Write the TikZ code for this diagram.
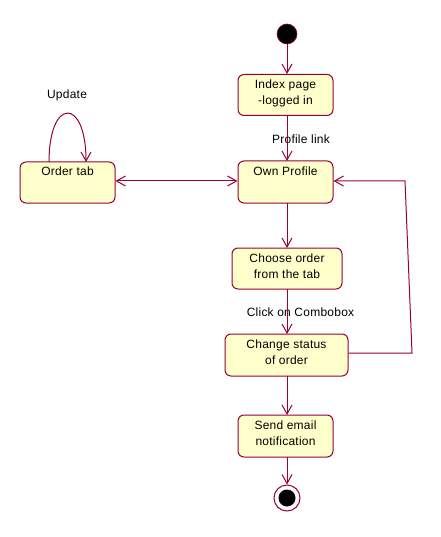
\documentclass[tikz,border=0pt]{standalone}
\usepackage{fontspec}
\setmainfont{Liberation Sans}[LetterSpace=2]
\usetikzlibrary{arrows.meta}
\definecolor{edge}{RGB}{153,0,51}
\definecolor{boxfill}{RGB}{255,255,204}
\tikzset{
  state/.style={draw=edge, fill=boxfill, line width=1pt, rounded corners=6pt, inner sep=0pt},
  txt/.style={font=\fontsize{12}{16}\selectfont, align=center, inner sep=0pt, text=black},
  conn/.style={draw=edge, line width=1pt, -{Straight Barb[length=9pt,width=10pt]}},
  plain/.style={draw=edge, line width=1pt},
}
\begin{document}
\begin{tikzpicture}[x=1pt,y=-1pt]
\useasboundingbox (0,0) rectangle (440,537);
% start
\node[circle, fill=black, draw=edge, line width=0.6pt, minimum size=20pt, inner sep=0pt] (start) at (287,34) {};
% states
\node[state, minimum width=95pt, minimum height=41pt] (index) at (285.5,95) {};
\node[txt] (indext) at (285.5,93) {Index page\\-logged in};
\node[state, minimum width=95pt, minimum height=42pt] (own) at (285.5,182) {};
\node[txt] (ownt) at (285.5,171) {Own Profile};
\node[state, minimum width=95pt, minimum height=41pt] (order) at (67.5,182.5) {};
\node[txt] (ordert) at (67.5,171) {Order tab};
\node[state, minimum width=110pt, minimum height=41pt] (choose) at (287,268.5) {};
\node[txt] (chooset) at (287,266) {Choose order\\from the tab};
\node[state, minimum width=123pt, minimum height=42pt] (change) at (286.5,355) {};
\node[txt] (changet) at (286.5,352) {Change status\\of order};
\node[state, minimum width=95pt, minimum height=42pt] (send) at (285.5,436) {};
\node[txt] (sendt) at (285.5,433) {Send email\\notification};
% end
\node[circle, draw=edge, fill=white, line width=1pt, minimum size=26pt, inner sep=0pt] (end) at (287,498) {};
\node[circle, fill=black, minimum size=17pt, inner sep=0pt] (endin) at (287,498) {};
% labels
\node[txt] (lupdate) at (67,95) {Update};
\node[txt] (lprofile) at (301,139) {Profile link};
\node[txt] (lclick) at (300.5,312) {Click on Combobox};
% connectors
\draw[conn] (start.south) -- (start.south |- index.north);
\draw[conn] (287,115.5) -- (287,161);
\draw[conn] (287,203) -- (287,248);
\draw[conn] (287,289) -- (287,334);
\draw[conn] (287,376) -- (287,415);
\draw[conn] (287,457) -- (end.north);
\draw[conn, {Straight Barb[length=9pt,width=10pt]}-{Straight Barb[length=9pt,width=10pt]}] (order.east |- 0,181) -- (own.west |- 0,181);
\draw[conn] (49,162) .. controls (49,97) and (86,97) .. (86,162);
\coordinate (fb1) at (412,353);
\coordinate (fb2) at (405,181);
\draw[conn] (change.east |- 0,353) -- (fb1) -- (fb2) -- (own.east |- fb2);
\end{tikzpicture}
\end{document}
